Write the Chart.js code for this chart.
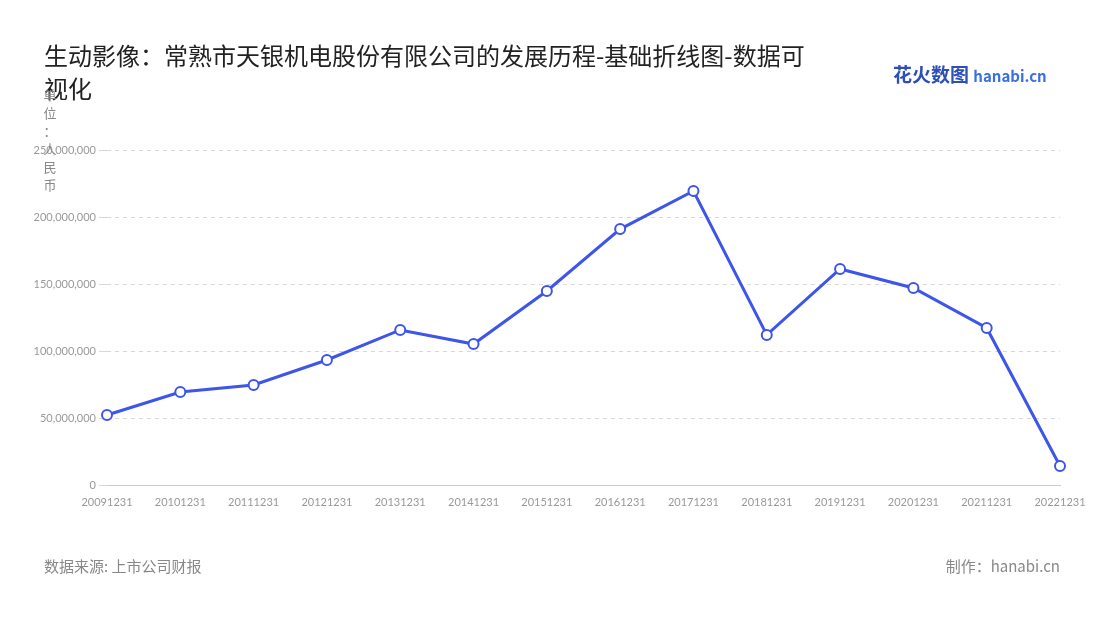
<!DOCTYPE html>
<html><head><meta charset="utf-8">
<script src="https://cdn.jsdelivr.net/npm/chart.js@4"></script>
<style>
body{margin:0;background:#fff;font-family:"Noto Sans CJK SC","Noto Sans",sans-serif;}
#wrap{position:relative;width:1100px;height:620px;}
canvas{position:absolute;left:0;top:0;}
#title{position:absolute;left:44px;top:38px;width:770px;font-size:24px;line-height:33px;color:#222;}
#src{position:absolute;left:44px;top:555px;font-size:15px;color:#888;}
#made{position:absolute;right:40px;top:555px;font-size:15px;color:#888;}
#logo{position:absolute;left:893px;top:60px;font-size:19px;font-weight:bold;color:#2d4fb8;}
#logo span{color:#3a6fe0;font-size:15px}
#unit{position:absolute;left:43px;top:86px;width:14px;font-size:13px;line-height:18px;color:#888;text-align:center;}
</style></head><body>
<div id="wrap">
<canvas id="c" width="1100" height="620"></canvas>
<div id="title">生动影像：常熟市天银机电股份有限公司的发展历程-基础折线图-数据可视化</div>
<div id="logo">花火数图 <span>hanabi.cn</span></div>
<div id="unit">单<br>位<br>：<br>人<br>民<br>币</div>
<div id="src">数据来源: 上市公司财报</div>
<div id="made">制作：hanabi.cn</div>
</div>
<script>
const categories=['20091231','20101231','20111231','20121231','20131231','20141231','20151231','20161231','20171231','20181231','20191231','20201231','20211231','20221231'];
const values=[52200000,69400000,74600000,93300000,115700000,105200000,144800000,191000000,219400000,112000000,161200000,147000000,117200000,14200000];
new Chart(document.getElementById('c'),{
type:'line',
data:{labels:categories,datasets:[{data:values,borderColor:'#3d55e8',borderWidth:3,pointBackgroundColor:'#fff',pointBorderColor:'#3d55e8',pointBorderWidth:2,pointRadius:5,tension:0}]},
options:{responsive:false,animation:false,
layout:{padding:{left:0,right:40,top:150,bottom:105}},
plugins:{legend:{display:false},tooltip:{enabled:false}},
scales:{
x:{afterFit(s){s.height=30},grid:{display:false},border:{color:'#ccc'},ticks:{color:'#999',font:{size:11,family:'Lato'},maxRotation:0,autoSkip:false}},
y:{min:0,max:250000000,afterFit(s){s.width=107},ticks:{stepSize:50000000,color:'#999',font:{size:11,family:'Lato'},callback:v=>v.toLocaleString('en-US')},grid:{color:'#d8d8d8'},border:{display:false,dash:[4,4]}}
}}
});
</script>
</body></html>
